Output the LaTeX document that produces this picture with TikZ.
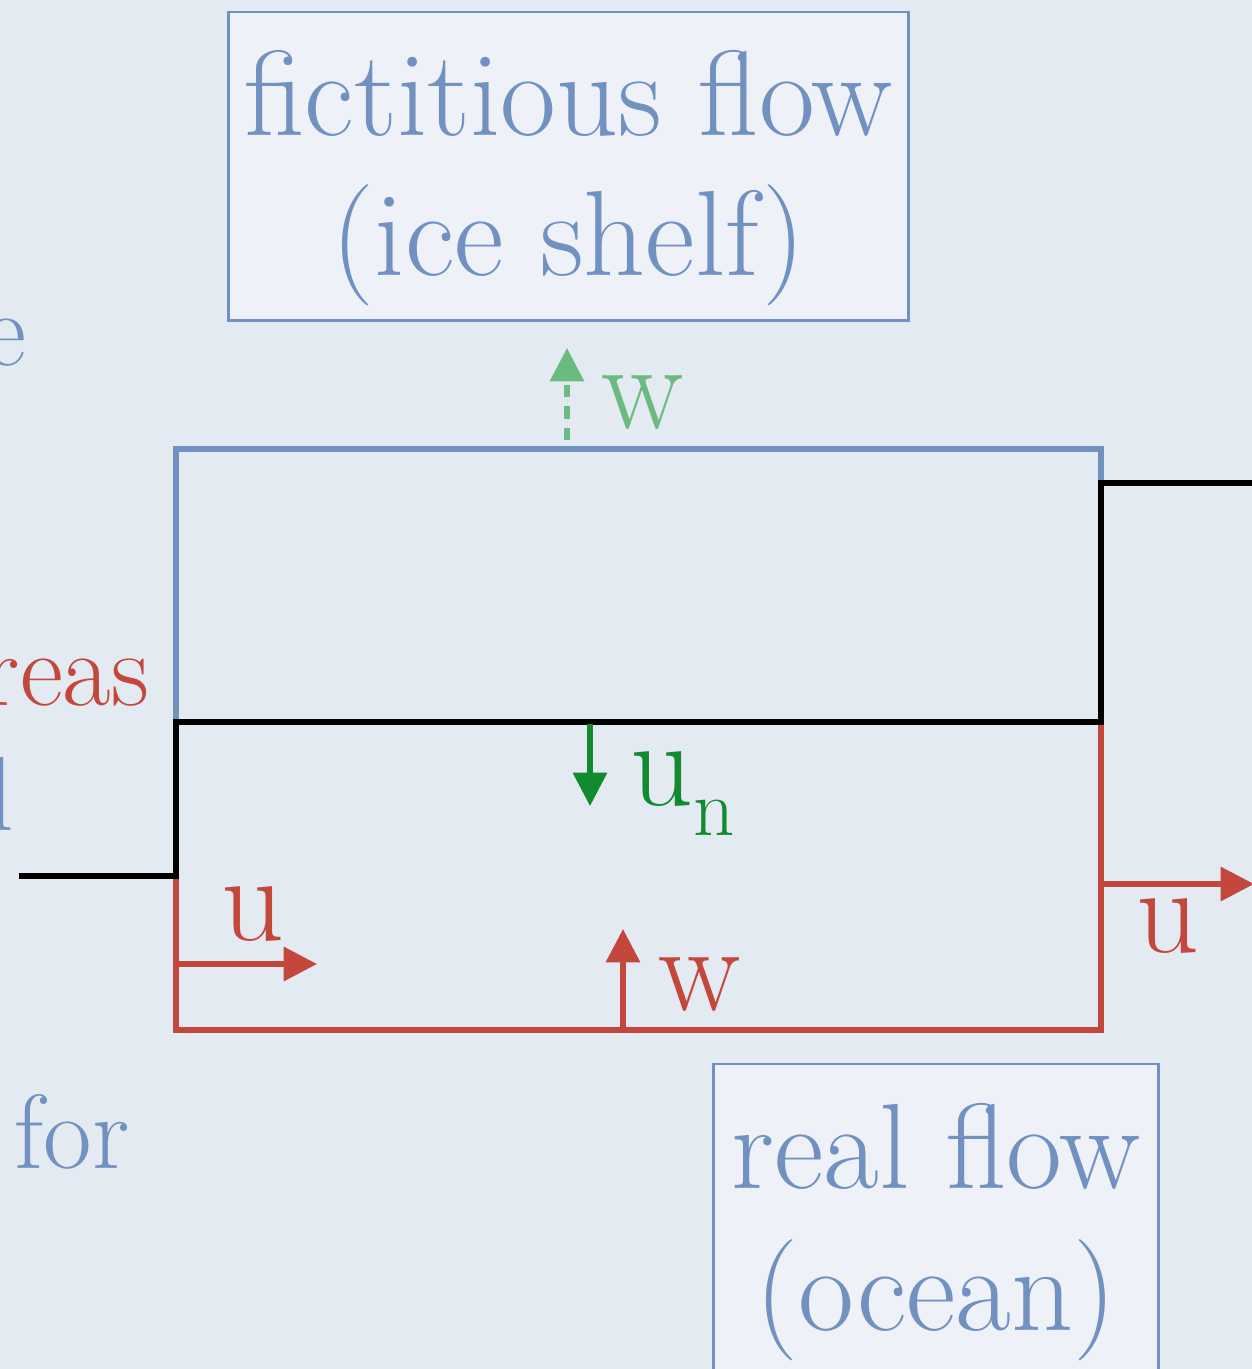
\documentclass[tikz,border=0pt]{standalone}
\usetikzlibrary{arrows.meta}
\definecolor{bg}{HTML}{E4EAF2}
\definecolor{boxfill}{HTML}{EEF2F8}
\definecolor{bluec}{HTML}{7191C1}
\definecolor{redc}{HTML}{C4473D}
\definecolor{dgreen}{HTML}{128A2E}
\definecolor{lgreen}{HTML}{6BBA80}
\begin{document}
\begin{tikzpicture}[x=0.01cm,y=-0.01cm,
  boxtxt/.style={font=\fontsize{34.5}{40}\selectfont, text=bluec, inner sep=0pt, anchor=base},
  lab/.style={font=\fontsize{35}{40}\selectfont, inner sep=0pt, anchor=base},
  frag/.style={font=\fontsize{30}{36}\selectfont, inner sep=0pt},
  frame/.style={draw=bluec, fill=boxfill, line width=0.8pt, inner sep=0pt},
  wall/.style={line width=1.9pt, line join=miter, line cap=rect},
  vec/.style={line width=1.5pt, -{Triangle[length=9.5pt, width=9.5pt]}}]
\fill[bg] (0,0) rectangle (1252,1369);
\useasboundingbox (0,0) rectangle (1252,1369);
\clip (0,0) rectangle (1252,1369);

% boxes
\node[frame, minimum width=6.79cm, minimum height=3.08cm] (iceBox) at (568.5,166) {};
\node[boxtxt] (ice1) at (568.5,135) {fictitious flow};
\node[boxtxt] (ice2) at (568.5,275) {(ice shelf)};
\node[frame, minimum width=4.44cm, minimum height=3.40cm] (oceanBox) at (936,1234) {};
\node[boxtxt] (oc1) at (936,1188) {real flow};
\node[boxtxt] (oc2) at (936,1330) {(ocean)};

% left partial text
\node[frag, text=bluec, anchor=base east] (t1) at (27,365) {e};
\node[frag, text=redc, anchor=base east] (t2) at (150,705) {reas};
\node[frag, text=bluec, anchor=base east] (t3) at (15,830) {l};
\node[frag, text=bluec, anchor=base west] (t4) at (14,1168) {for};

% coordinates
\coordinate (A) at (176,449);
\coordinate (B) at (1101,449);
\coordinate (C) at (1101,483);
\coordinate (K1) at (22,876);
\coordinate (K2) at (176,876);
\coordinate (K3) at (176,722);
\coordinate (K4) at (1101,722);
\coordinate (K5) at (1101,483);
\coordinate (K6) at (1265,483);
\coordinate (R2) at (176,1030);
\coordinate (R3) at (1101,1030);

% walls
\draw[wall, draw=bluec] (K3) -- (A) -- (B) -- (C);
\draw[wall, draw=redc] (K2) -- (R2) -- (R3) -- (K4);
\draw[wall, draw=black] (K1) -- (K2) -- (K3) -- (K4) -- (K5) -- (K6);

% arrows
\coordinate (gw0) at (567,440);
\coordinate (gw1) at (567,348);
\coordinate (un0) at (590,724);
\coordinate (un1) at (590,806);
\coordinate (ul0) at (178,964);
\coordinate (ul1) at (317,964);
\coordinate (rw0) at (623,1027);
\coordinate (rw1) at (623,929);
\coordinate (ur0) at (1103,884);
\coordinate (ur1) at (1254,884);

\draw[vec, draw=lgreen, fill=lgreen, dash pattern=on 3.5pt off 2.6pt] (gw0) -- (gw1);
\draw[vec, draw=dgreen] (un0) -- (un1);
\draw[vec, draw=redc] (ul0) -- (ul1);
\draw[vec, draw=redc] (rw0) -- (rw1);
\draw[vec, draw=redc] (ur0) -- (ur1);

% labels
\node[lab, text=lgreen] (wtop) at (643,428) {w};
\node[lab, text=dgreen, anchor=base west] (unl) at (630,805) {u\raisebox{-0.25em}{\fontsize{23}{23}\selectfont n}};
\node[lab, text=redc] (ul) at (253,940) {u};
\node[lab, text=redc] (wb) at (700,1010) {w};
\node[lab, text=redc] (ur) at (1168,952) {u};
\end{tikzpicture}
\end{document}
